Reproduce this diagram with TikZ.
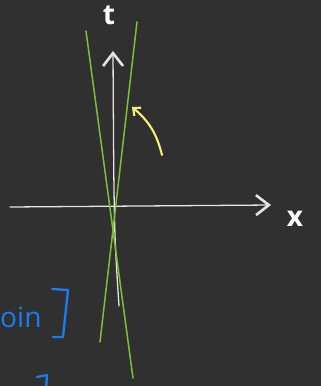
\documentclass[tikz,border=0pt]{standalone}
\usepackage{fontspec}
\setsansfont{Open Sans}
\usetikzlibrary{arrows.meta}
\definecolor{board}{RGB}{48,48,48}
\definecolor{chalkgreen}{RGB}{125,190,55}
\definecolor{chalkyellow}{RGB}{245,240,120}
\definecolor{chalkblue}{RGB}{25,125,240}
\begin{document}
\begin{tikzpicture}[
  x=0.03cm, y=-0.03cm,
  axis/.style={draw=white!90!black, line width=1.1pt, line cap=round,
    -{Straight Barb[length=11pt, width=17pt, line width=2.2pt]}},
  light/.style={draw=chalkgreen, line width=1.3pt, line cap=round},
  lbl/.style={text=white, font=\sffamily\bfseries\fontsize{24}{24}\selectfont, inner sep=0pt},
  ink/.style={draw=chalkblue, line width=2pt, line cap=round, line join=round}
]
  \fill[board] (0,0) rectangle (321,386);
  \useasboundingbox (0,0) rectangle (321,386);
  \clip (0,0) rectangle (321,386);

  \coordinate (xl) at (10,207);
  \coordinate (xr) at (271,205);
  \coordinate (tb) at (119,306);
  \coordinate (tt) at (113,51);
  \node[lbl] (t) at (109,15) {t};
  \node[lbl] (x) at (295,219) {x};

  \draw[axis] (xl) -- (xr);
  \draw[axis] (tb) .. controls (114,230) .. (tt);

  \coordinate (g1a) at (86,31);
  \coordinate (g1b) at (133,378);
  \coordinate (g2a) at (137,22);
  \coordinate (g2b) at (100,342);
  \draw[light] (g1a) -- (g1b);
  \draw[light] (g2a) -- (g2b);

  \coordinate (ya) at (162,155);
  \coordinate (yb) at (132,107);
  \draw[chalkyellow, line width=1.8pt, line cap=round,
    -{Straight Barb[length=5pt, width=9pt, line width=1.8pt]}] (ya) to[bend right=18] (yb);

  \node[text=chalkblue, font=\sffamily\fontsize{24}{24}\selectfont, inner sep=0pt,
    anchor=base west] (note) at (0,327) {oin};
  \draw[ink] (52,289) -- (68,290) -- (63,337) -- (53,337);
  \draw[ink] (37,377) -- (47,375) -- (46,390);
\end{tikzpicture}
\end{document}
